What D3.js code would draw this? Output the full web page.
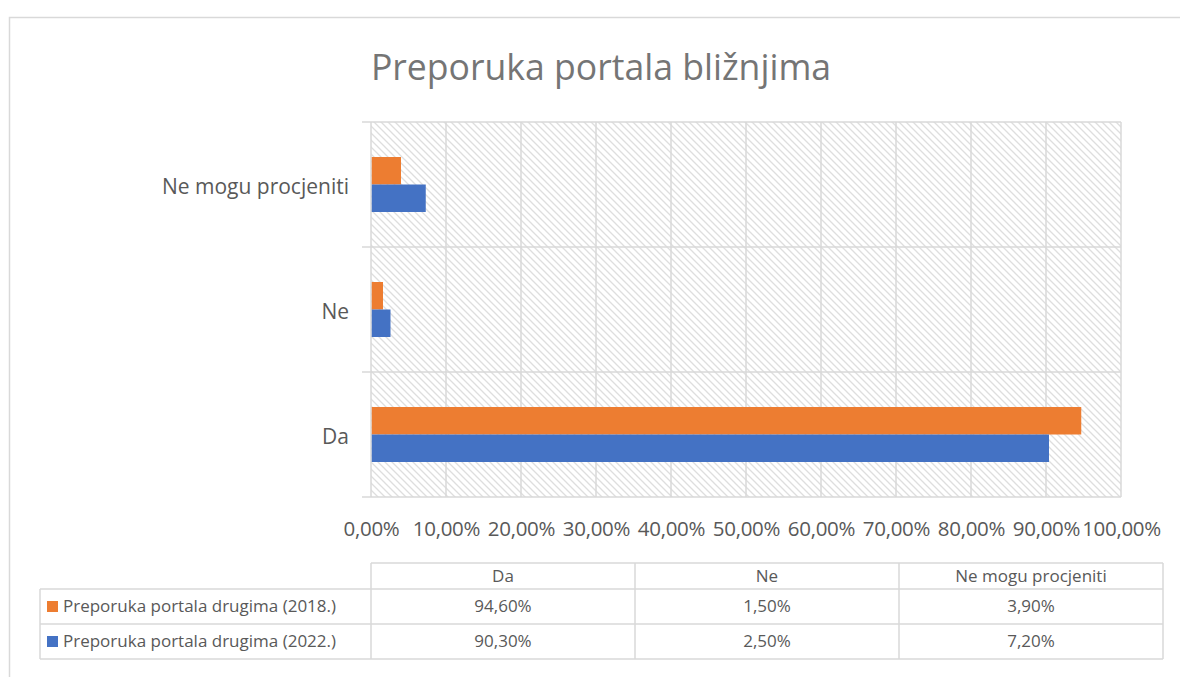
<!DOCTYPE html>
<html><head><meta charset="utf-8">
<script src="https://cdn.jsdelivr.net/npm/d3@7"></script>
<style>html,body{margin:0;padding:0;background:#fff;}svg{display:block;font-family:"Open Sans",sans-serif;}</style>
</head><body>
<svg id="c" width="1180" height="677"></svg>
<script>
const title = "Preporuka portala bližnjima";
const categories = ["Ne mogu procjeniti", "Ne", "Da"];
const tableCategories = ["Da", "Ne", "Ne mogu procjeniti"];
const seriesNames = ["Preporuka portala drugima (2018.)", "Preporuka portala drugima (2022.)"];
const values2018 = {"Da": 94.6, "Ne": 1.5, "Ne mogu procjeniti": 3.9};
const values2022 = {"Da": 90.3, "Ne": 2.5, "Ne mogu procjeniti": 7.2};
const seriesColors = ["#ED7D31", "#4472C4"];
const xTicks = [0,10,20,30,40,50,60,70,80,90,100];

const series = [
  {name: seriesNames[0], key: "s2018", values: values2018, color: seriesColors[0]},
  {name: seriesNames[1], key: "s2022", values: values2022, color: seriesColors[1]}
];
const fmt = v => v.toFixed(2).replace(".", ",") + "%";

const svg = d3.select("#c");
const grid = "#d9d9d9", txt = "#595959";

// outer frame
svg.append("rect").attr("x", 9.5).attr("y", 17.5).attr("width", 1200).attr("height", 700)
  .attr("fill", "#fff").attr("stroke", grid).attr("stroke-width", 1.5);

// hatch pattern
const defs = svg.append("defs");
const pat = defs.append("pattern").attr("id", "hatch").attr("patternUnits", "userSpaceOnUse")
  .attr("width", 7).attr("height", 7);
pat.append("rect").attr("width", 7).attr("height", 7).attr("fill", "#fff");
pat.append("path").attr("d", "M0,0L7,7M-1,6L1,8M6,-1L8,1")
  .attr("stroke", "#dedede").attr("stroke-width", 1.3);

// title
svg.append("text").attr("x", 601).attr("y", 80).attr("text-anchor", "middle")
  .attr("fill", "#757575").attr("font-size", 35.6).text(title);

const x = d3.scaleLinear().domain([0, 100]).range([371, 1121]);
const y = d3.scaleBand().domain(categories).range([122, 497]).padding(0);
const groupH = y.bandwidth() * 0.44;
const ys = d3.scaleBand().domain(series.map(s => s.key))
  .range([(y.bandwidth() - groupH) / 2, (y.bandwidth() + groupH) / 2]).padding(0);

// plot area background
svg.append("rect").attr("x", x(0)).attr("y", 122).attr("width", x(100) - x(0)).attr("height", 375)
  .attr("fill", "url(#hatch)");

// vertical gridlines
svg.append("g").selectAll("line").data(xTicks).join("line")
  .attr("x1", d => x(d)).attr("x2", d => x(d)).attr("y1", 122).attr("y2", 497)
  .attr("stroke", grid).attr("stroke-width", 1.5);

// horizontal category boundaries with ticks
const bounds = categories.map(c => y(c)).concat([y.range()[1]]);
svg.append("g").selectAll("line").data(bounds).join("line")
  .attr("x1", 362).attr("x2", x(100)).attr("y1", d => d).attr("y2", d => d)
  .attr("stroke", grid).attr("stroke-width", 1.5);

// bars
const gCat = svg.append("g").selectAll("g").data(categories).join("g")
  .attr("transform", d => `translate(0,${y(d)})`);
gCat.selectAll("rect").data(c => series.map(s => ({s, v: s.values[c]}))).join("rect")
  .attr("x", x(0) + 0.75).attr("y", d => ys(d.s.key))
  .attr("width", d => x(d.v) - x(0)).attr("height", ys.bandwidth())
  .attr("fill", d => d.s.color);

// x axis labels
const xAxis = d3.axisBottom(x).tickValues(xTicks).tickFormat(d => fmt(d)).tickSize(0).tickPadding(0);
const gx = svg.append("g").attr("transform", "translate(0,521)").call(xAxis);
gx.select(".domain").remove();
gx.selectAll("text").attr("fill", txt).attr("font-size", 20.5).attr("font-family", "Open Sans")
  .attr("letter-spacing", "-0.3px").attr("dy", "0.71em");

// y axis labels
const yAxis = d3.axisLeft(y).tickSize(0).tickPadding(0);
const gy = svg.append("g").attr("transform", "translate(349,0)").call(yAxis);
gy.select(".domain").remove();
gy.selectAll("text").attr("fill", txt).attr("font-size", 21).attr("font-family", "Open Sans")
  .attr("dy", "0.45em");

// data table
const colX = d3.scaleBand().domain(tableCategories).range([371, 1163]);
const rowTop = [563, 589, 624, 659];
const tbl = svg.append("g").attr("stroke", grid).attr("stroke-width", 1.5);
tbl.append("line").attr("x1", 371).attr("x2", 1163).attr("y1", rowTop[0]).attr("y2", rowTop[0]);
[rowTop[1], rowTop[2], rowTop[3]].forEach(yy =>
  tbl.append("line").attr("x1", 40).attr("x2", 1163).attr("y1", yy).attr("y2", yy));
tbl.append("line").attr("x1", 40).attr("x2", 40).attr("y1", rowTop[1]).attr("y2", rowTop[3]);
[371, colX("Ne"), colX("Ne mogu procjeniti"), 1163].forEach(xx =>
  tbl.append("line").attr("x1", xx).attr("x2", xx).attr("y1", rowTop[0]).attr("y2", rowTop[3]));

const tt = svg.append("g").attr("fill", txt).attr("font-size", 17).attr("font-family", "Open Sans");
tt.selectAll("text.h").data(tableCategories).join("text").attr("class", "h")
  .attr("x", d => colX(d) + colX.bandwidth() / 2).attr("y", (rowTop[0] + rowTop[1]) / 2)
  .attr("dy", "0.35em").attr("text-anchor", "middle").text(d => d);
series.forEach((s, i) => {
  const cy = (rowTop[i + 1] + rowTop[i + 2]) / 2;
  svg.append("rect").attr("x", 47).attr("y", cy - 5.5).attr("width", 11).attr("height", 11).attr("fill", s.color);
  tt.append("text").attr("x", 63).attr("y", cy).attr("dy", "0.35em").text(s.name);
  tt.selectAll(null).data(tableCategories).join("text")
    .attr("x", d => colX(d) + colX.bandwidth() / 2).attr("y", cy).attr("dy", "0.35em")
    .attr("text-anchor", "middle").text(d => fmt(s.values[d]));
});
</script>
</body></html>
